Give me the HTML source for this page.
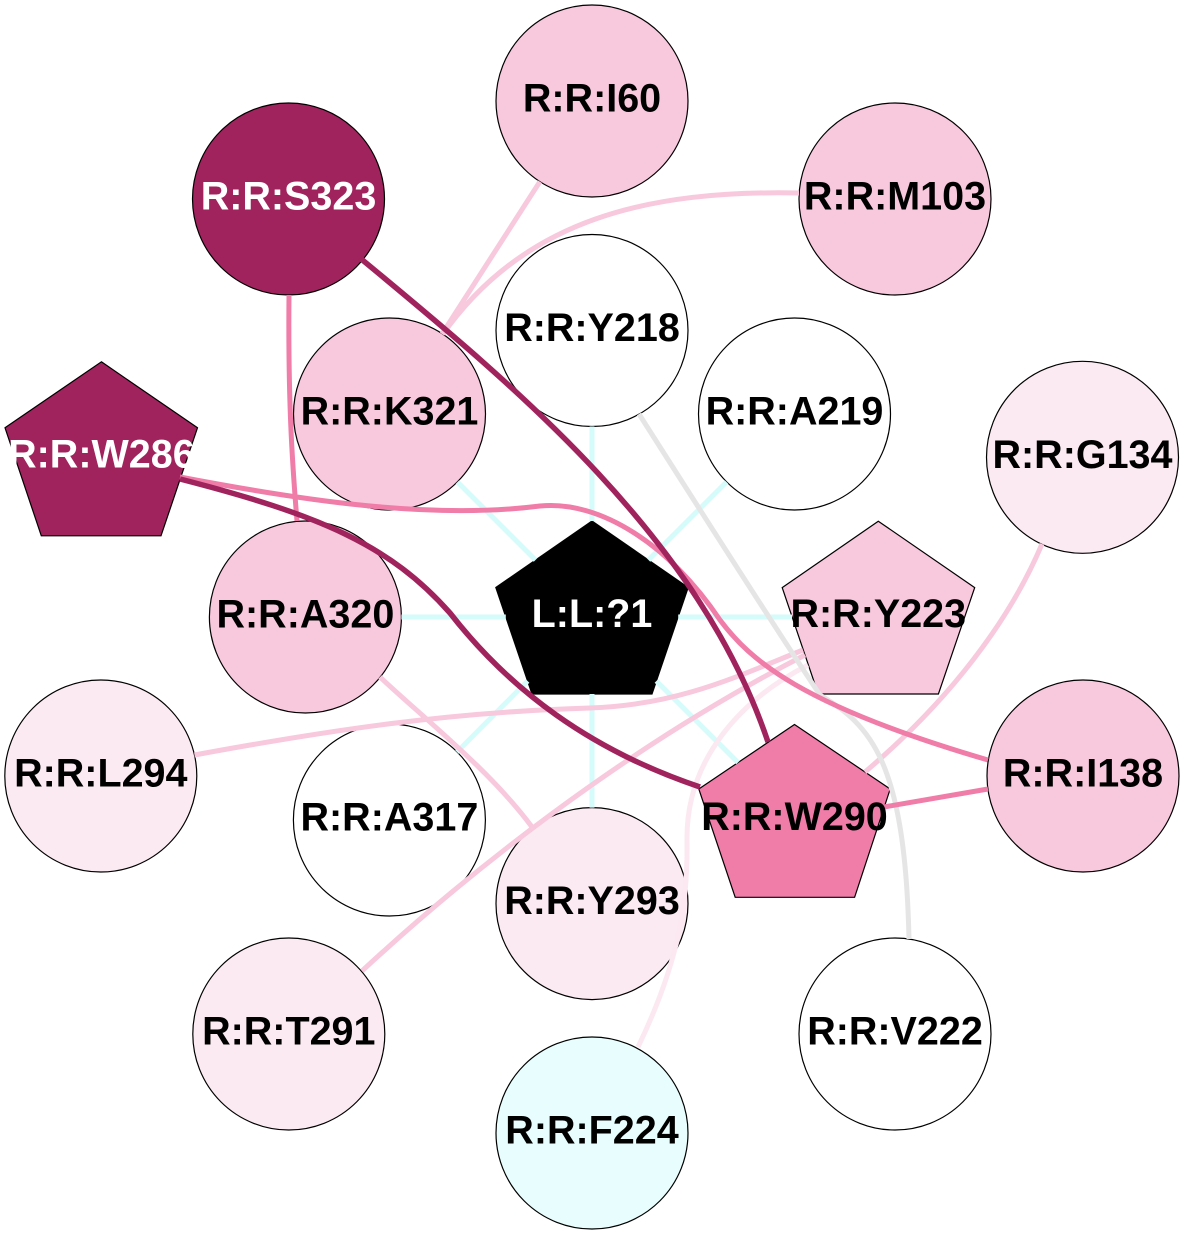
<!DOCTYPE html>
<html>
<head>
<meta charset="utf-8">
<style>
html,body{margin:0;padding:0;background:#fff;}
svg{display:block;}
text{font-family:"Liberation Sans",Arial,sans-serif;font-weight:bold;font-size:39.5px;text-anchor:middle;}
</style>
</head>
<body>
<svg width="1184" height="1235" viewBox="0 0 1184 1235" xmlns="http://www.w3.org/2000/svg">
<rect width="1184" height="1235" fill="#fff"/>

<!-- nodes (shapes) -->
<g stroke="#000" stroke-width="1.2">
  <circle cx="592" cy="101" r="96" fill="#f8c8dc"/>
  <circle cx="895" cy="199" r="96" fill="#f8c8dc"/>
  <circle cx="288.5" cy="199" r="96" fill="#a0235d"/>
  <circle cx="592" cy="330.5" r="96" fill="#ffffff"/>
  <circle cx="794.5" cy="414" r="96" fill="#ffffff"/>
  <circle cx="389.5" cy="414" r="96" fill="#f8c8dc"/>
  <circle cx="1082.5" cy="457.3" r="96" fill="#fbeaf2"/>
  <polygon points="101.4,361.8 197.5,427.8 161,535.8 41.3,535.8 5,427.8" fill="#a0235d"/>
  <circle cx="305.4" cy="617" r="96" fill="#f8c8dc"/>
  <polygon points="592,521 688.2,587.5 652,694 532,694 495.8,587.5" fill="#000000"/>
  <polygon points="878.3,521.2 974.7,587.6 938.4,694 818.2,694 782.2,587.6" fill="#f8c8dc"/>
  <circle cx="100.8" cy="776" r="96" fill="#fbeaf2"/>
  <circle cx="1083" cy="776" r="96" fill="#f8c8dc"/>
  <circle cx="389.4" cy="820" r="96" fill="#ffffff"/>
  <polygon points="794.5,724.5 890.2,789 854.6,897.3 735.2,897.3 698.8,789" fill="#f07ca8"/>
  <circle cx="592" cy="903.6" r="96" fill="#fbeaf2"/>
  <circle cx="288.8" cy="1034" r="96" fill="#fbeaf2"/>
  <circle cx="895" cy="1034" r="96" fill="#ffffff"/>
  <circle cx="592" cy="1133" r="96" fill="#e8fdfd"/>
</g>

<!-- edges -->
<g fill="none" stroke-linecap="butt">
  <g stroke="#d6fbfb" stroke-width="5">
    <line x1="592" y1="521" x2="592" y2="426.5"/>
    <line x1="648.5" y1="560" x2="726.5" y2="482"/>
    <line x1="535.5" y1="560" x2="457.5" y2="482"/>
    <line x1="505.8" y1="617" x2="401.4" y2="617"/>
    <line x1="678.2" y1="617" x2="792" y2="617"/>
    <line x1="527.6" y1="681" x2="457" y2="752"/>
    <line x1="592" y1="694" x2="592" y2="807.6"/>
    <line x1="656.4" y1="681" x2="738" y2="762.5"/>
  </g>
  <g stroke="#f8c8dc" stroke-width="5">
    <line x1="539.9" y1="181.6" x2="442" y2="334"/>
    <path d="M799,193 C650,190 525,218 443,334"/>
    <path d="M194.5,755 C330,730 450,712 590,708 C680,705 740,675 803,650"/>
    <path d="M362,971 C460,880 620,750 805,655"/>
    <path d="M380,677 C420,715 490,770 532,827"/>
    <path d="M1042,544 C1010,620 950,700 865,772"/>
  </g>
  <path d="M638,1047 C680,960 688,900 687,840 C686,760 740,700 808,665" stroke="#fbe8f0" stroke-width="5"/>
  <path d="M639,414 C700,510 770,620 820,695 C870,725 905,760 909,939" stroke="#e5e5e5" stroke-width="5"/>
  <g stroke="#f07ca8" stroke-width="5">
    <path d="M289,295 C288,400 292,460 297,521"/>
    <path d="M180,477 C300,500 430,520 540,506 C600,500 670,545 720,620 C750,660 800,705 988,760"/>
    <line x1="884" y1="807" x2="988" y2="789"/>
  </g>
  <g stroke="#a0235d" stroke-width="5.5">
    <path d="M360,258 C520,390 700,540 768,742"/>
    <path d="M180,479 C320,515 390,545 450,613 C510,690 590,750 700,787"/>
  </g>
</g>

<!-- labels -->
<g>
  <text x="592" y="111.5" fill="#000">R:R:I60</text>
  <text x="895" y="209.5" fill="#000">R:R:M103</text>
  <text x="288.5" y="209.5" fill="#fff">R:R:S323</text>
  <text x="592" y="341" fill="#000">R:R:Y218</text>
  <text x="794.5" y="424.5" fill="#000">R:R:A219</text>
  <text x="389.5" y="424.5" fill="#000">R:R:K321</text>
  <text x="1082.5" y="468" fill="#000">R:R:G134</text>
  <text x="101.4" y="467.5" fill="#fff">R:R:W286</text>
  <text x="305.4" y="627.5" fill="#000">R:R:A320</text>
  <text x="592" y="627" fill="#fff">L:L:?1</text>
  <text x="878.3" y="627" fill="#000">R:R:Y223</text>
  <text x="100.8" y="786.5" fill="#000">R:R:L294</text>
  <text x="1083" y="786.5" fill="#000">R:R:I138</text>
  <text x="389.4" y="830.5" fill="#000">R:R:A317</text>
  <text x="794.5" y="830" fill="#000">R:R:W290</text>
  <text x="592" y="914" fill="#000">R:R:Y293</text>
  <text x="288.8" y="1044.5" fill="#000">R:R:T291</text>
  <text x="895" y="1044.5" fill="#000">R:R:V222</text>
  <text x="592" y="1143.5" fill="#000">R:R:F224</text>
</g>
</svg>
</body>
</html>
